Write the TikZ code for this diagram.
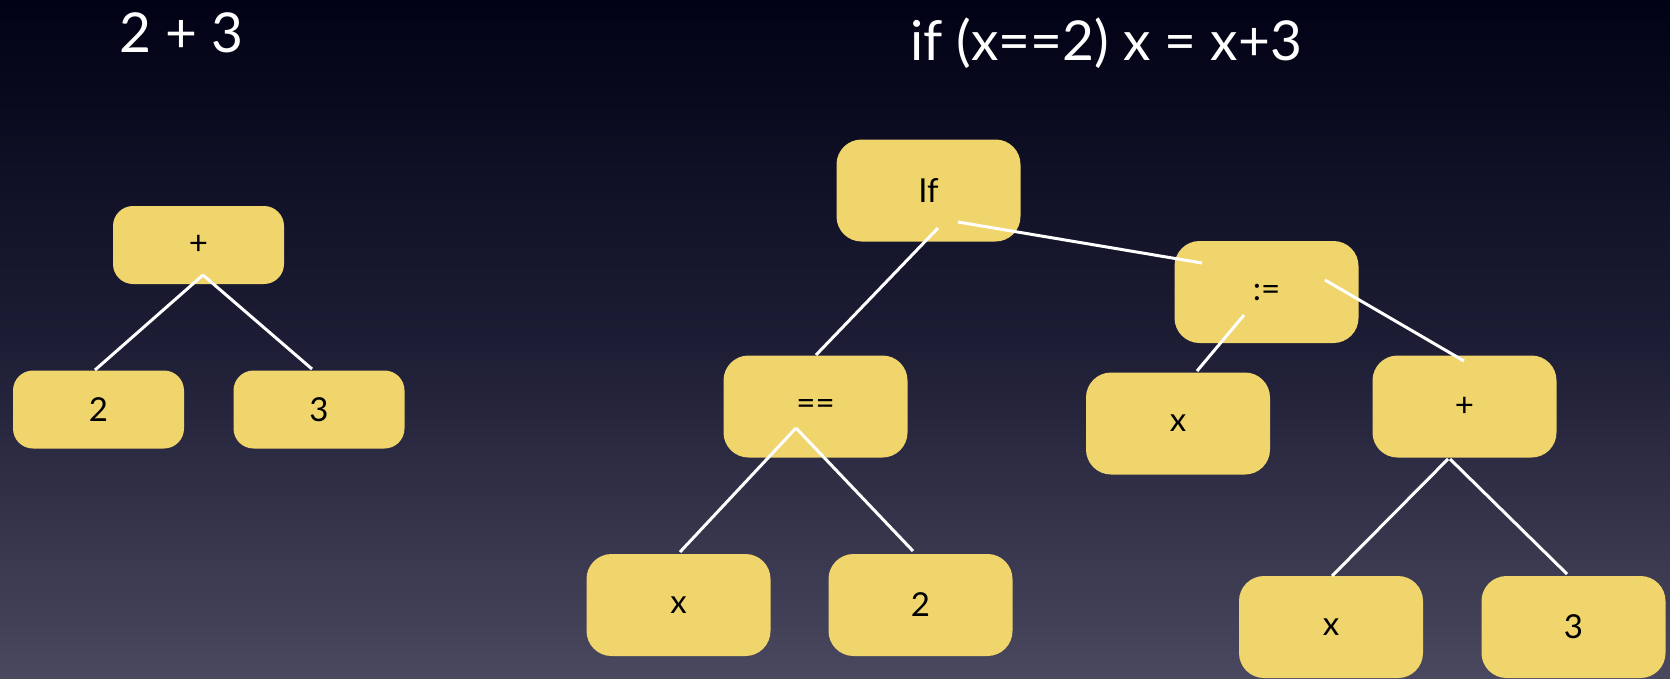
\documentclass[tikz,border=0pt]{standalone}
\usepackage{fontspec}
\setmainfont{Lato}
\begin{document}
\begin{tikzpicture}[x=1pt,y=-1pt,
  tok/.style={fill=boxyellow, text=black, font=\fontsize{33}{38}\selectfont, inner sep=0pt},
  small/.style={tok, minimum width=171pt, minimum height=78pt, rounded corners=20pt},
  big/.style={tok, minimum width=184pt, minimum height=102pt, rounded corners=25pt},
  edge/.style={draw=white, line width=3pt},
  title/.style={text=white, font=\fontsize{55}{62}\selectfont, anchor=base, inner sep=0pt}]
\definecolor{boxyellow}{RGB}{240,212,108}
\definecolor{bgtop}{RGB}{2,2,22}
\definecolor{bgmid}{RGB}{28,28,52}
\definecolor{bgbot}{RGB}{74,72,94}
% background gradient
\shade[top color=bgtop, bottom color=bgbot, middle color=bgmid] (0,0) rectangle (1670,678);
\useasboundingbox (0,0) rectangle (1670,678);

% titles
\node[title] (t1) at (181,52) {2 + 3};
\node[title] (t2) at (1106,60) {if (x==2) x = x+3};

% tree for 2 + 3
\node[small] (p1) at (198.5,245) {+};
\node[small] (n2) at (98.5,409.5) {2};
\node[small] (n3) at (319,409.5) {3};

% tree for the if statement
\node[big] (if) at (928.5,190.5) {If};
\node[big] (assign) at (1266.5,292) {:=};
\node[big] (eq) at (815.5,406.5) {==};
\node[big] (xa) at (1178,423.5) {x};
\node[big] (plus) at (1464.5,406.5) {+};
\node[big] (xe) at (678.5,605) {x};
\node[big] (two) at (920.5,605) {2};
\node[big] (xp) at (1331,627) {x};
\node[big] (three) at (1573.5,627) {3};

% connectors
\draw[edge] ([shift={(4.5,30)}]p1.center) -- ([shift={(-3.5,-39.5)}]n2.center);
\draw[edge] ([shift={(4.5,30)}]p1.center) -- ([shift={(-7,-40.5)}]n3.center);

\draw[edge] ([shift={(9.5,37.5)}]if.center) -- ([shift={(0.5,-51.5)}]eq.center);
\draw[edge] ([shift={(29.5,31.5)}]if.center) -- ([shift={(-64.5,-29)}]assign.center);
\draw[edge] ([shift={(-22.5,23)}]assign.center) -- ([shift={(19,-52.5)}]xa.center);
\draw[edge] ([shift={(58.5,-12)}]assign.center) -- ([shift={(-0.5,-45.5)}]plus.center);
\draw[edge] ([shift={(-19.5,21.5)}]eq.center) -- ([shift={(1.5,-53)}]xe.center);
\draw[edge] ([shift={(-19.5,21.5)}]eq.center) -- ([shift={(-7.5,-54)}]two.center);
\draw[edge] ([shift={(-16.5,52.5)}]plus.center) -- ([shift={(1,-51)}]xp.center);
\draw[edge] ([shift={(-14.5,52.5)}]plus.center) -- ([shift={(-6.5,-53)}]three.center);
\end{tikzpicture}
\end{document}
